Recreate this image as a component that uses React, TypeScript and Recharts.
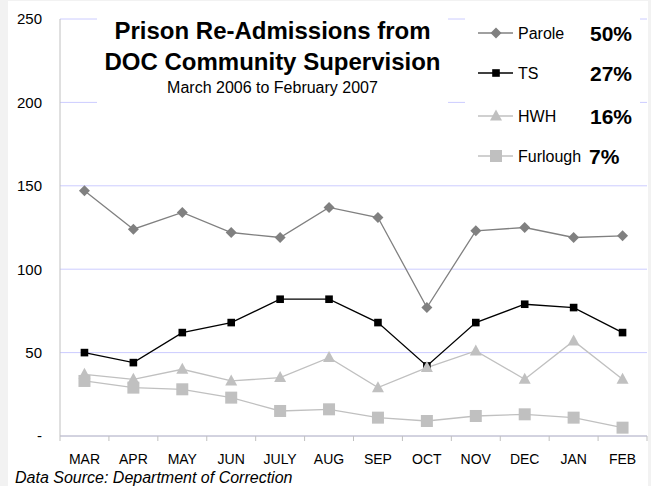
import { CartesianGrid, Line, LineChart, XAxis, YAxis } from "recharts";

const MONTHS = ["MAR", "APR", "MAY", "JUN", "JULY", "AUG", "SEP", "OCT", "NOV", "DEC", "JAN", "FEB"];
const PAROLE = [147, 124, 134, 122, 119, 137, 131, 77, 123, 125, 119, 120];
const TS = [50, 44, 62, 68, 82, 82, 68, 42, 68, 79, 77, 62];
const HWH = [37, 34, 40, 33, 35, 47, 29, 41, 51, 34, 57, 34];
const FURLOUGH = [33, 29, 28, 23, 15, 16, 11, 9, 12, 13, 11, 5];

const SERIES_NAMES = ["Parole", "TS", "HWH", "Furlough"];
const SHARES = ["50%", "27%", "16%", "7%"];
const Y_TICKS = [0, 50, 100, 150, 200, 250];

const FONT = "Arial, 'Liberation Sans', sans-serif";
const AXIS = "#c0c0c0";
const GRID = "#ccccff";
const DARK_GRAY = "#808080";
const LIGHT_GRAY = "#c0c0c0";

const data = MONTHS.map((month, i) => ({
  month,
  parole: PAROLE[i],
  ts: TS[i],
  hwh: HWH[i],
  furlough: FURLOUGH[i],
}));

type Shape = "diamond" | "square" | "triangle" | "bigSquare";

function marker(shape: Shape, cx: number, cy: number, color: string, key?: string | number) {
  if (shape === "diamond") {
    const r = 5.5;
    return <path key={key} d={`M${cx},${cy - r}L${cx + r},${cy}L${cx},${cy + r}L${cx - r},${cy}Z`} fill={color} />;
  }
  if (shape === "square") {
    return <rect key={key} x={cx - 3.8} y={cy - 3.8} width={7.6} height={7.6} fill={color} />;
  }
  if (shape === "triangle") {
    return <path key={key} d={`M${cx},${cy - 6.5}L${cx + 6},${cy + 4.5}L${cx - 6},${cy + 4.5}Z`} fill={color} />;
  }
  return <rect key={key} x={cx - 6} y={cy - 6} width={12} height={12} fill={color} />;
}

const SERIES: { key: string; shape: Shape; color: string }[] = [
  { key: "parole", shape: "diamond", color: DARK_GRAY },
  { key: "ts", shape: "square", color: "#000000" },
  { key: "hwh", shape: "triangle", color: LIGHT_GRAY },
  { key: "furlough", shape: "bigSquare", color: LIGHT_GRAY },
];

// month label centred in its band, with tick marks on the band edges
function MonthTick(props: any) {
  const { x, y, payload, index } = props;
  const half = payload?.offset ?? 0;
  const last = index === MONTHS.length - 1;
  return (
    <g>
      <line x1={x - half} x2={x - half} y1={y} y2={y + 5} stroke={AXIS} />
      {last && <line x1={x + half} x2={x + half} y1={y} y2={y + 5} stroke={AXIS} />}
      <text x={x} y={y + 28} textAnchor="middle" fontSize={14} fontFamily={FONT} fill="#000">
        {payload.value}
      </text>
    </g>
  );
}

function Legend() {
  return (
    <div style={{ position: "absolute", left: 465, top: 8, width: 175, height: 168, background: "#fff" }}>
      <svg width={175} height={168} style={{ fontFamily: FONT }}>
        {SERIES.map((s, i) => {
          const y = [25, 65, 108, 148][i];
          return (
            <g key={s.key}>
              <line x1={13} x2={48} y1={y} y2={y} stroke={s.color} strokeWidth={1.3} />
              {marker(s.shape, 31, y, s.color)}
              <text x={53} y={y + 5.5} fontSize={16} fill="#000">
                {SERIES_NAMES[i]}
              </text>
              <text x={i === 3 ? 124 : 125} y={y + 7.5} fontSize={21} fontWeight="bold" fill="#000">
                {SHARES[i]}
              </text>
            </g>
          );
        })}
      </svg>
    </div>
  );
}

export default function App() {
  return (
    <div style={{ position: "fixed", left: 0, top: 0, width: 651, height: 486, background: "#f2f2f2", fontFamily: FONT, overflow: "hidden" }}>
      <div style={{ position: "absolute", left: 8, top: 1, width: 640, height: 485, background: "#fff" }} />
      <div style={{ position: "absolute", left: 0, top: 0 }}>
        <LineChart width={651} height={486} data={data} margin={{ top: 19, right: 4, bottom: 0, left: 0 }}>
          <CartesianGrid vertical={false} stroke={GRID} strokeWidth={1} />
          <XAxis
            dataKey="month"
            scale="band"
            height={50}
            tickLine={false}
            tickSize={0}
            tickMargin={0}
            axisLine={{ stroke: AXIS }}
            interval={0}
            tick={<MonthTick />}
          />
          <YAxis
            width={60}
            domain={[0, 250]}
            ticks={Y_TICKS}
            tickFormatter={(v: number) => (v === 0 ? "-" : String(v))}
            tickLine={false}
            tickSize={0}
            tickMargin={18}
            axisLine={{ stroke: AXIS }}
            tick={{ fill: "#000", fontSize: 15, fontFamily: FONT }}
          />
          {SERIES.map((s) => (
            <Line
              key={s.key}
              dataKey={s.key}
              stroke={s.color}
              strokeWidth={1.3}
              isAnimationActive={false}
              dot={(p: any) => marker(s.shape, p.cx, p.cy, s.color, `${s.key}-${p.index}`)}
              activeDot={false}
            />
          ))}
        </LineChart>
      </div>
      <div style={{ position: "absolute", left: 97, top: 8, width: 351, height: 102, background: "#fff" }} />
      <div style={{ position: "absolute", left: 90, top: 19, width: 365, textAlign: "center", fontSize: 24, fontWeight: "bold", lineHeight: 1 }}>
        Prison Re-Admissions from
      </div>
      <div style={{ position: "absolute", left: 90, top: 50, width: 365, textAlign: "center", fontSize: 24, fontWeight: "bold", lineHeight: 1 }}>
        DOC Community Supervision
      </div>
      <div style={{ position: "absolute", left: 97, top: 79.5, width: 351, textAlign: "center", fontSize: 16, lineHeight: 1 }}>
        March 2006 to February 2007
      </div>
      <Legend />
      <div style={{ position: "absolute", left: 15, top: 469.5, fontSize: 16, fontStyle: "italic", lineHeight: 1, whiteSpace: "nowrap" }}>
        Data Source: Department of Correction
      </div>
    </div>
  );
}
